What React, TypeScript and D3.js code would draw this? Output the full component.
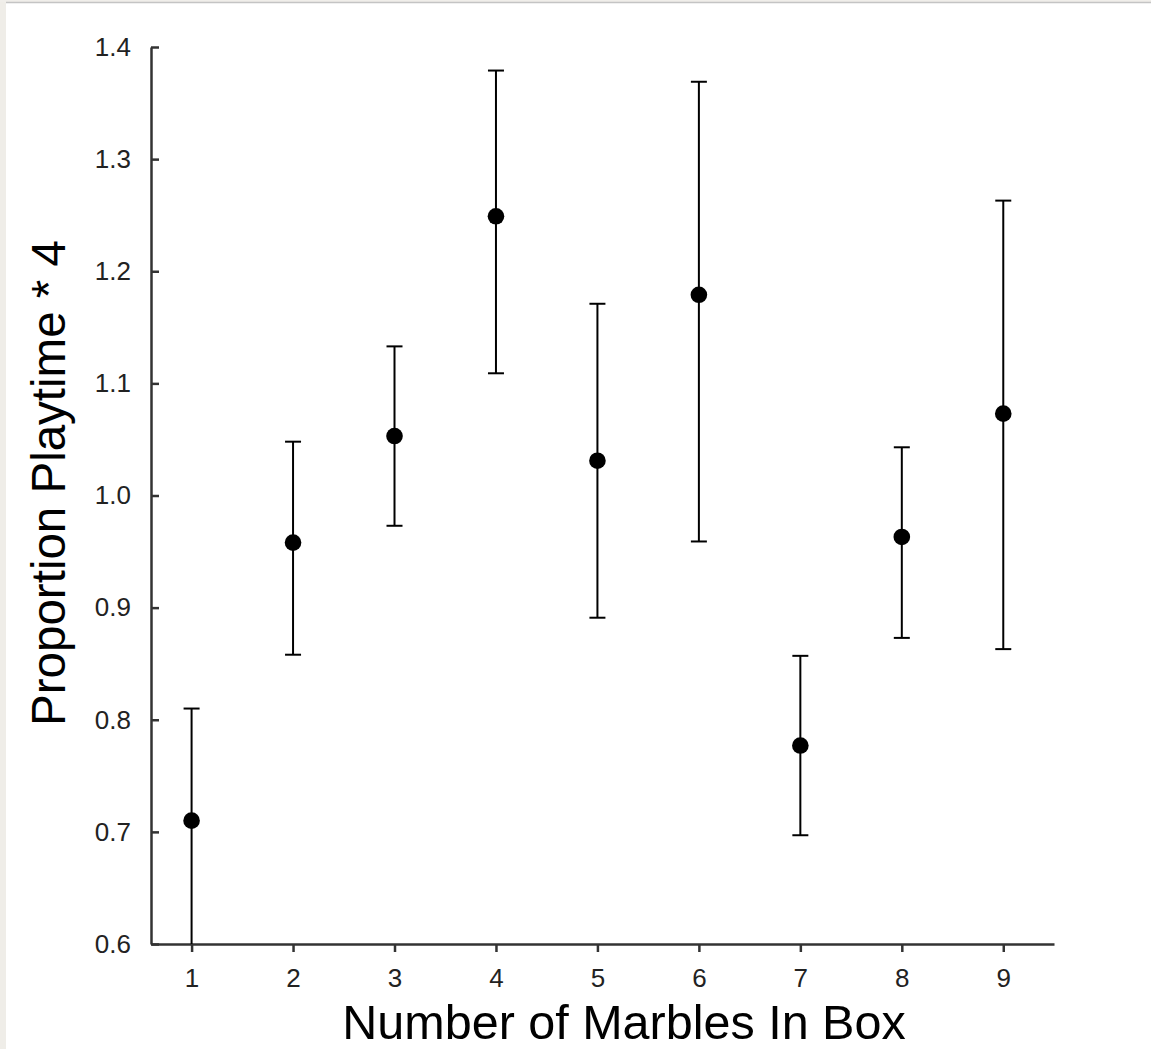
import React from 'react';
import * as d3 from 'd3';

// values
const marbles = [1, 2, 3, 4, 5, 6, 7, 8, 9];
const means = [0.71, 0.958, 1.053, 1.249, 1.031, 1.179, 0.777, 0.963, 1.073];
const upper = [0.81, 1.048, 1.133, 1.379, 1.171, 1.369, 0.857, 1.043, 1.263];
const lower = [0.59, 0.858, 0.973, 1.109, 0.891, 0.959, 0.697, 0.873, 0.863];
const yTicks = [0.6, 0.7, 0.8, 0.9, 1.0, 1.1, 1.2, 1.3, 1.4];

const xTitle = 'Number of Marbles In Box';
const yTitle = 'Proportion Playtime * 4';

class MarbleChart extends React.Component {
    width = 1151;
    height = 1049;
    // plot box
    left = 151;
    right = 1054;
    top = 47;
    bottom = 944;
    box: any = null;

    componentDidMount() {
        let self = this;
        let svg = d3.select(this.box)
            .append('svg')
            .attr('width', self.width)
            .attr('height', self.height)
            .style('position', 'absolute')
            .style('left', 0)
            .style('top', 0)
            .style('font-family', '"Liberation Sans", Arial, Helvetica, sans-serif');

        svg.append('rect').attr('width', self.width).attr('height', self.height).attr('fill', '#fff');
        // the grey edge of the screenshot
        svg.append('rect').attr('x', 0).attr('y', 0).attr('width', 6).attr('height', self.height).attr('fill', '#efede8');
        svg.append('rect').attr('x', 0).attr('y', 0).attr('width', self.width).attr('height', 2).attr('fill', '#f0eeea');
        svg.append('line')
            .attr('x1', 6).attr('x2', self.width)
            .attr('y1', 2.5).attr('y2', 2.5)
            .attr('stroke', '#c4c4c4').attr('stroke-width', 1.5);

        let xScale = d3.scaleLinear().domain([0.6, 9.5]).range([self.left, self.right]);
        let yScale = d3.scaleLinear().domain([0.6, 1.4]).range([self.bottom, self.top]);

        svg.append('clipPath').attr('id', 'plot-clip')
            .append('rect')
            .attr('x', self.left).attr('y', self.top)
            .attr('width', self.right - self.left).attr('height', self.bottom - self.top);

        // axes
        let yAxis = d3.axisLeft(yScale)
            .tickValues(yTicks)
            .tickFormat(d3.format('.1f'))
            .tickSizeInner(-8)
            .tickSizeOuter(0)
            .tickPadding(20);
        let gy = svg.append('g').attr('transform', `translate(${self.left},0)`).call(yAxis);

        let xAxis = d3.axisBottom(xScale)
            .tickValues(marbles)
            .tickFormat(d3.format('d'))
            .tickSizeInner(8)
            .tickSizeOuter(0)
            .tickPadding(17);
        let gx = svg.append('g').attr('transform', `translate(0,${self.bottom})`).call(xAxis);

        [gx, gy].forEach((g) => {
            g.select('.domain').attr('stroke', '#333').attr('stroke-width', 2.5);
            g.selectAll('.tick line').attr('stroke', '#333').attr('stroke-width', 2.5);
            g.selectAll('.tick text')
                .attr('fill', '#222')
                .style('font-size', '26px')
                .style('font-family', '"Liberation Sans", Arial, sans-serif');
        });

        let marks = svg.append('g').attr('clip-path', 'url(#plot-clip)');

        // error bars
        marks.selectAll('line.bar')
            .data(marbles)
            .enter()
            .append('line')
            .attr('class', 'bar')
            .attr('x1', (d) => xScale(d))
            .attr('x2', (d) => xScale(d))
            .attr('y1', (d, i) => yScale(upper[i]))
            .attr('y2', (d, i) => yScale(lower[i]))
            .attr('stroke', '#000')
            .attr('stroke-width', 2);

        let caps = marbles.flatMap((d, i) => [[d, upper[i]], [d, lower[i]]]);
        marks.selectAll('line.cap')
            .data(caps)
            .enter()
            .append('line')
            .attr('class', 'cap')
            .attr('x1', (d) => xScale(d[0]) - 8)
            .attr('x2', (d) => xScale(d[0]) + 8)
            .attr('y1', (d) => yScale(d[1]))
            .attr('y2', (d) => yScale(d[1]))
            .attr('stroke', '#000')
            .attr('stroke-width', 2);

        marks.selectAll('circle')
            .data(marbles)
            .enter()
            .append('circle')
            .attr('cx', (d) => xScale(d))
            .attr('cy', (d, i) => yScale(means[i]))
            .attr('r', 8.3)
            .attr('fill', '#000');

        // titles
        svg.append('text')
            .attr('x', 624)
            .attr('y', 1039)
            .attr('text-anchor', 'middle')
            .attr('fill', '#000')
            .style('font-size', '48.5px')
            .text(xTitle);

        svg.append('text')
            .attr('transform', 'translate(65,483) rotate(-90)')
            .attr('text-anchor', 'middle')
            .attr('fill', '#000')
            .style('font-size', '47.5px')
            .text(yTitle);
    }

    render() {
        return (
            <div ref={(el) => { this.box = el; }} id="svg-box-marbles"></div>
        );
    }
}

export default function App() {
    return <MarbleChart />;
}
